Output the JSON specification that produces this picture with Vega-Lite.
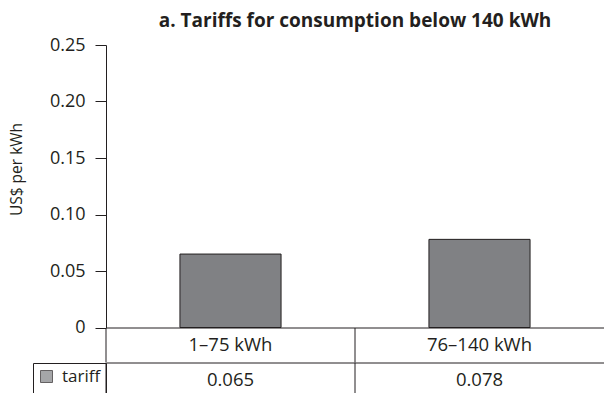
{
  "$schema": "https://vega.github.io/schema/vega-lite/v6.json",
  "autosize": "none",
  "padding": {"left": 106, "top": 45, "right": 498, "bottom": 348},
  "config": {
    "font": "Open Sans",
    "view": {"stroke": null},
    "axis": {"domainColor": "#231f20", "tickColor": "#231f20", "labelColor": "#231f20", "titleColor": "#231f20", "labelFont": "Open Sans", "titleFont": "Open Sans"},
    "text": {"font": "Open Sans", "color": "#231f20"}
  },
  "bounds": "flush",
  "spacing": 0,
  "data": {"values": [
    {"band": "1–75 kWh", "tariff": 0.065, "series": "tariff"},
    {"band": "76–140 kWh", "tariff": 0.078, "series": "tariff"}
  ]},
  "resolve": {"scale": {"color": "independent", "fill": "independent", "x": "independent"}, "legend": {"fill": "independent"}},
  "vconcat": [
    {
      "width": 498,
      "height": 282.5,
      "title": {"text": "a. Tariffs for consumption below 140 kWh", "fontSize": 19, "fontWeight": "bold", "anchor": "middle", "frame": "group", "color": "#231f20", "offset": 5},
      "mark": {"type": "bar", "fill": "#808184", "stroke": "#231f20", "strokeWidth": 1},
      "encoding": {
        "x": {"field": "band", "type": "nominal", "sort": null,
              "scale": {"paddingInner": 0.594, "paddingOuter": 0.297},
              "axis": {"labels": false, "ticks": false, "title": null, "domain": true}},
        "y": {"field": "tariff", "type": "quantitative",
              "scale": {"domain": [0, 0.25]},
              "axis": {"values": [0, 0.05, 0.1, 0.15, 0.2, 0.25],
                       "labelExpr": "datum.value === 0 ? '0' : format(datum.value, '.2f')",
                       "grid": false, "tickSize": 11, "labelPadding": 10, "labelFontSize": 18,
                       "title": "US$ per kWh", "titleFontSize": 15.5, "titleFontWeight": "normal",
                       "titleY": 124, "titleX": -82}}
      }
    },
    {
      "width": 498,
      "height": 34.5,
      "layer": [
        {
          "mark": {"type": "rule", "color": "#231f20", "strokeWidth": 1},
          "encoding": {
            "x": {"field": "band", "type": "nominal", "sort": null, "bandPosition": 0,
                  "scale": {"paddingInner": 0, "paddingOuter": 0},
                  "axis": {"labels": false, "ticks": false, "title": null, "domain": true, "orient": "bottom"}}
          }
        },
        {
          "mark": {"type": "text", "fontSize": 18.5, "baseline": "middle"},
          "encoding": {
            "x": {"field": "band", "type": "nominal", "sort": null},
            "text": {"field": "band"}
          }
        }
      ]
    },
    {
      "width": 498,
      "height": 34,
      "layer": [
        {
          "mark": {"type": "rule", "color": "#231f20", "strokeWidth": 1},
          "encoding": {
            "x": {"field": "band", "type": "nominal", "sort": null, "bandPosition": 0,
                  "scale": {"paddingInner": 0, "paddingOuter": 0},
                  "axis": null}
          }
        },
        {
          "mark": {"type": "text", "fontSize": 18.5, "baseline": "middle"},
          "encoding": {
            "x": {"field": "band", "type": "nominal", "sort": null},
            "text": {"field": "tariff", "format": ".3f"}
          }
        },
        {
          "mark": {"type": "point", "shape": "square", "filled": true, "size": 0, "stroke": "#231f20", "strokeWidth": 0},
          "encoding": {
            "x": {"field": "band", "type": "nominal", "sort": null},
            "fill": {"field": "series", "type": "nominal",
                     "scale": {"range": ["#808184"]},
                     "legend": {"title": " ", "titleOrient": "bottom", "titleFontSize": 12, "titlePadding": 2,
                                "orient": "left", "offset": 0, "padding": 5,
                                "strokeColor": "#231f20", "labelFontSize": 17, "labelFont": "Open Sans",
                                "labelColor": "#231f20", "labelOffset": 7, "symbolType": "square", "symbolSize": 144,
                                "symbolStrokeColor": "#231f20", "symbolStrokeWidth": 1,
                                "encode": {"symbols": {"update": {"stroke": {"value": "#231f20"}, "strokeWidth": {"value": 1}, "size": {"value": 144}, "opacity": {"value": 1}}}}}}
          }
        }
      ]
    }
  ]
}
